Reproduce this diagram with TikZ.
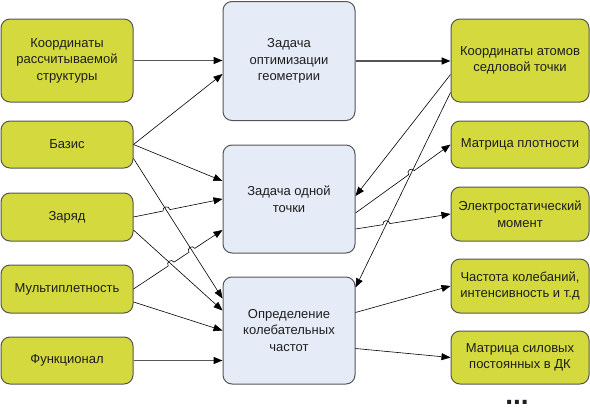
\documentclass[tikz,border=0pt]{standalone}
\usepackage{fontspec}
\setmainfont{Liberation Sans}
\usetikzlibrary{arrows.meta,calc,intersections}
\definecolor{boxgreen}{RGB}{212,218,62}
\definecolor{boxblue}{RGB}{230,236,247}
\definecolor{edgegray}{RGB}{85,85,85}
\definecolor{textgray}{RGB}{30,30,30}
\begin{document}
\begin{tikzpicture}[x=1pt, y=-1pt,
    box/.style={draw=edgegray, line width=1pt, rounded corners=9pt, align=center,
        inner sep=0pt, text=textgray, font=\fontsize{13}{16.5}\selectfont},
    inbox/.style={box, fill=boxgreen, minimum width=132pt},
    task/.style={box, fill=boxblue, minimum width=132pt},
    outbox/.style={box, fill=boxgreen, minimum width=138pt},
    link/.style={-{Triangle[length=9pt,width=7pt]}, line width=0.6pt},
    mainlink/.style={-{Triangle[length=9pt,width=7pt,color=black]}, draw=edgegray, line width=1.5pt},
    hop/.style={bend left=90, looseness=1.7}]
    \useasboundingbox (0,0) rectangle (590,415);
    \node[inbox, minimum height=83pt] (coords) at (67,60.5) {Координаты\\рассчитываемой\\структуры};
    \node[inbox, minimum height=47pt] (basis) at (67,144.5) {Базис};
    \node[inbox, minimum height=48pt] (charge) at (67,217) {Заряд};
    \node[inbox, minimum height=48pt] (mult) at (67,289) {Мультиплетность};
    \node[inbox, minimum height=47pt] (func) at (67,360.5) {Функционал};
    \node[task, minimum height=119pt] (geom) at (289,61) {Задача\\оптимизации\\геометрии};
    \node[task, minimum height=108pt] (single) at (289,199) {Задача одной\\точки};
    \node[task, minimum height=107pt] (freq) at (289,330.5) {Определение\\колебательных\\частот};
    \node[outbox, minimum height=83pt] (saddle) at (520,60.5) {Координаты атомов\\седловой точки};
    \node[outbox, minimum height=47pt] (dens) at (520,144.5) {Матрица плотности};
    \node[outbox, minimum height=54pt] (dipole) at (520,214) {Электростатический\\момент};
    \node[outbox, minimum height=54pt] (intens) at (520,286) {Частота колебаний,\\интенсивность и т.д};
    \node[outbox, minimum height=53pt] (hess) at (520,357.5) {Матрица силовых\\постоянных в ДК};
    \node[anchor=base, text=textgray, font=\fontsize{28}{30}\selectfont\bfseries] (more) at (517,404) {...};

    \draw[mainlink] (coords.east) -- (coords.east -| geom.west);
    \draw[mainlink] (func.east) -- (func.east -| freq.west);
    \draw[mainlink] (geom.east) -- (geom.east -| saddle.west);

    \draw[link] (basis.east) -- ([yshift=-13pt]geom.west);
    \draw[link] (basis.east) -- ([yshift=18pt]single.west);
    \draw[link, name path=basisfreq] ([yshift=-14pt]basis.east) -- ([yshift=32pt]freq.west);
    \draw[link, name path=chargefreq] ([yshift=-13pt]charge.east) -- ([yshift=20pt]freq.west);
    \draw[link] ([yshift=-13pt]mult.east) -- (freq.west);

    \path[name path=chargesingle] (charge.east) -- (single.west);
    \path[name intersections={of=chargesingle and basisfreq, by=h1}];
    \draw[link] (charge.east) -- ($(h1)!3.5pt!(charge.east)$) to[hop] ($(h1)!3.5pt!(single.west)$) -- (single.west);

    \coordinate (multend) at ([yshift=-31pt]single.west);
    \path[name path=multsingle] (mult.east) -- (multend);
    \path[name intersections={of=multsingle and chargefreq, by=h2}];
    \path[name intersections={of=multsingle and basisfreq, by=h3}];
    \draw[link] (mult.east) -- ($(h2)!3.5pt!(mult.east)$) to[hop] ($(h2)!3.5pt!(multend)$)
        -- ($(h3)!3.5pt!(mult.east)$) to[hop] ($(h3)!3.5pt!(multend)$) -- (multend);

    \draw[link] ([yshift=-14pt]saddle.west) -- ([yshift=3pt]single.east);
    \draw[link, name path=saddlefreq] ([yshift=-32pt]saddle.west) -- ([yshift=43pt]freq.east);

    \coordinate (densstart) at ([yshift=-14pt]single.east);
    \path[name path=singledens] (densstart) -- (dens.west);
    \path[name intersections={of=singledens and saddlefreq, by=h4}];
    \draw[link] (densstart) -- ($(h4)!3.5pt!(densstart)$) to[hop] ($(h4)!3.5pt!(dens.west)$) -- (dens.west);

    \coordinate (dipstart) at ([yshift=-30pt]single.east);
    \path[name path=singledip] (dipstart) -- (dipole.west);
    \path[name intersections={of=singledip and saddlefreq, by=h5}];
    \draw[link] (dipstart) -- ($(h5)!3.5pt!(dipstart)$) to[hop] ($(h5)!3.5pt!(dipole.west)$) -- (dipole.west);

    \draw[link] ([yshift=18pt]freq.east) -- (intens.west);
    \draw[link] ([yshift=-18pt]freq.east) -- (hess.west);
\end{tikzpicture}
\end{document}
